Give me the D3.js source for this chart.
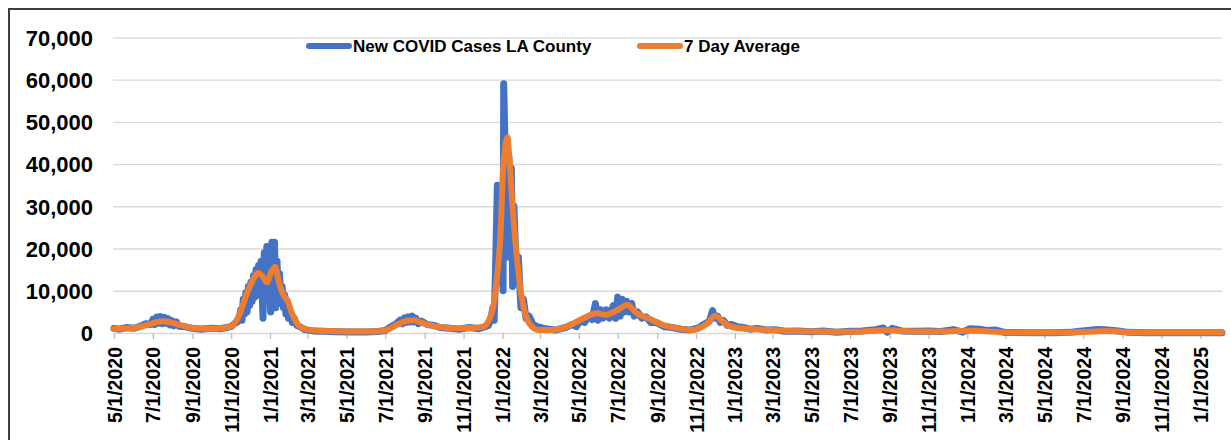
<!DOCTYPE html>
<html>
<head>
<meta charset="utf-8">
<script src="https://cdn.jsdelivr.net/npm/d3@7"></script>
<style>
  body { margin: 0; background: #fff; font-family: "Liberation Sans", Arial, sans-serif; }
  svg text { font-weight: bold; fill: #000; }
</style>
</head>
<body>
<script>
// daily new cases, [date, cases] (spikes kept where the band is wide)
var casePoints = [
  ["2020-05-01",1100],["2020-05-10",900],["2020-05-20",1300],["2020-06-01",1100],["2020-06-10",1500],
  ["2020-06-20",2200],["2020-06-28",2000],["2020-07-01",3200],["2020-07-04",2000],["2020-07-07",3800],
  ["2020-07-10",2300],["2020-07-13",3900],["2020-07-16",2200],["2020-07-19",3700],["2020-07-22",2300],
  ["2020-07-25",3400],["2020-07-28",1900],["2020-07-31",2900],["2020-08-03",1700],["2020-08-07",2600],
  ["2020-08-11",1600],["2020-08-20",1500],["2020-09-01",1100],["2020-09-15",900],["2020-10-01",1100],
  ["2020-10-15",1000],["2020-10-25",1300],["2020-11-01",1500],["2020-11-06",2200],["2020-11-10",2500],
  ["2020-11-14",3500],["2020-11-16",5500],["2020-11-18",3000],["2020-11-20",8000],["2020-11-22",4500],
  ["2020-11-24",9500],["2020-11-26",5000],["2020-11-28",11000],["2020-11-30",6500],["2020-12-02",12000],
  ["2020-12-04",7500],["2020-12-06",13500],["2020-12-08",8500],["2020-12-10",15000],["2020-12-12",9000],
  ["2020-12-14",16000],["2020-12-16",10000],["2020-12-18",17000],["2020-12-20",8000],["2020-12-21",3500],
  ["2020-12-23",19000],["2020-12-25",9000],["2020-12-27",20500],["2020-12-29",12000],["2020-12-31",14000],
  ["2021-01-02",5000],["2021-01-04",21500],["2021-01-06",12000],["2021-01-08",21500],["2021-01-10",6000],
  ["2021-01-12",17000],["2021-01-14",9000],["2021-01-16",14000],["2021-01-18",7000],["2021-01-20",11000],
  ["2021-01-22",6000],["2021-01-24",9000],["2021-01-26",4500],["2021-01-28",7500],["2021-01-30",3500],
  ["2021-02-02",5000],["2021-02-05",2500],["2021-02-08",3500],["2021-02-12",1800],["2021-02-17",1500],
  ["2021-02-25",800],["2021-03-10",500],["2021-03-25",400],["2021-04-15",300],["2021-05-10",250],
  ["2021-06-01",250],["2021-06-20",350],["2021-07-01",600],["2021-07-10",1500],["2021-07-18",2200],
  ["2021-07-24",3000],["2021-07-28",2200],["2021-07-31",3600],["2021-08-03",2500],["2021-08-06",3800],
  ["2021-08-09",2600],["2021-08-12",4000],["2021-08-15",2600],["2021-08-18",3500],["2021-08-22",2200],
  ["2021-08-27",2800],["2021-09-05",2000],["2021-09-15",1800],["2021-09-25",1300],["2021-10-10",1100],
  ["2021-10-25",900],["2021-11-10",1300],["2021-11-25",1000],["2021-12-05",1500],["2021-12-10",1800],
  ["2021-12-14",3500],["2021-12-17",6000],["2021-12-19",3000],["2021-12-21",14000],["2021-12-24",35000],
  ["2021-12-26",12000],["2021-12-28",33000],["2021-12-31",25000],["2022-01-02",10000],["2022-01-03",59000],
  ["2022-01-05",45000],["2022-01-07",40000],["2022-01-09",18000],["2022-01-11",42000],["2022-01-13",35000],
  ["2022-01-15",39000],["2022-01-17",11000],["2022-01-19",30000],["2022-01-21",22000],["2022-01-24",12000],
  ["2022-01-26",18000],["2022-01-30",6000],["2022-02-03",8000],["2022-02-07",3500],["2022-02-12",4000],
  ["2022-02-18",2000],["2022-02-25",1500],["2022-03-10",1000],["2022-03-25",700],["2022-04-10",1300],
  ["2022-04-20",2000],["2022-04-27",1500],["2022-05-04",3000],["2022-05-10",2500],["2022-05-17",4000],
  ["2022-05-22",3200],["2022-05-27",7000],["2022-05-31",3000],["2022-06-04",5500],["2022-06-08",3500],
  ["2022-06-13",5500],["2022-06-18",3500],["2022-06-24",6500],["2022-06-28",3500],["2022-07-01",8500],
  ["2022-07-05",4000],["2022-07-08",8000],["2022-07-12",5000],["2022-07-15",7500],["2022-07-19",5000],
  ["2022-07-23",7000],["2022-07-27",4000],["2022-08-01",5000],["2022-08-08",3500],["2022-08-15",3800],
  ["2022-08-22",2500],["2022-09-01",2400],["2022-09-12",1500],["2022-09-25",1300],["2022-10-08",900],
  ["2022-10-22",700],["2022-11-05",1200],["2022-11-15",2200],["2022-11-22",2800],["2022-11-27",5300],
  ["2022-11-30",3500],["2022-12-05",4000],["2022-12-09",2500],["2022-12-14",3000],["2022-12-20",1800],
  ["2022-12-27",2000],["2023-01-05",1500],["2023-01-15",1300],["2023-01-25",900],["2023-02-05",1100],
  ["2023-02-20",700],["2023-03-05",800],["2023-03-20",400],["2023-04-10",500],["2023-05-01",300],
  ["2023-05-20",450],["2023-06-10",200],["2023-07-01",400],["2023-07-20",500],["2023-08-10",800],
  ["2023-08-22",1200],["2023-08-28",200],["2023-09-05",1100],["2023-09-20",500],["2023-10-10",400],
  ["2023-11-01",450],["2023-11-20",350],["2023-12-10",800],["2023-12-25",200],["2024-01-05",1000],
  ["2024-01-20",900],["2024-02-01",600],["2024-02-15",700],["2024-03-01",100],["2024-04-15",80],
  ["2024-05-15",80],["2024-06-10",150],["2024-06-25",400],["2024-07-20",800],["2024-08-05",750],
  ["2024-08-25",500],["2024-09-10",150],["2024-10-10",80],["2024-12-15",80],["2025-02-04",80]
];

// 7 day average, [date, cases]
var avgPoints = [
  ["2020-05-01",1000],["2020-06-01",1200],["2020-06-20",1800],["2020-07-05",2500],["2020-07-18",2800],
  ["2020-08-01",2400],["2020-08-15",1800],["2020-09-01",1200],["2020-10-01",1000],["2020-11-01",1500],
  ["2020-11-07",2400],["2020-11-15",4700],["2020-11-26",9500],["2020-12-05",12500],["2020-12-13",14200],
  ["2020-12-20",13500],["2020-12-27",12000],["2021-01-03",14500],["2021-01-09",15600],["2021-01-15",12000],
  ["2021-01-22",9000],["2021-01-28",7800],["2021-02-05",4500],["2021-02-17",1500],["2021-03-01",800],
  ["2021-04-01",450],["2021-05-01",350],["2021-06-15",350],["2021-07-05",800],["2021-07-20",2000],
  ["2021-08-05",2900],["2021-08-15",3000],["2021-08-25",2500],["2021-09-10",1800],["2021-10-01",1300],
  ["2021-11-01",1100],["2021-12-01",1400],["2021-12-08",2300],["2021-12-18",6500],["2021-12-24",14000],
  ["2021-12-29",23600],["2022-01-02",38500],["2022-01-09",46300],["2022-01-12",41000],["2022-01-17",29800],
  ["2022-01-24",17300],["2022-02-01",7800],["2022-02-12",2300],["2022-02-27",700],["2022-03-18",700],
  ["2022-04-18",1900],["2022-05-08",3500],["2022-05-30",4700],["2022-06-11",4300],["2022-06-30",5400],
  ["2022-07-16",6600],["2022-07-31",4700],["2022-08-21",3300],["2022-09-10",1900],["2022-10-02",1200],
  ["2022-10-23",700],["2022-11-19",2300],["2022-12-01",4000],["2022-12-20",1900],["2023-01-05",1200],
  ["2023-02-01",900],["2023-03-01",700],["2023-04-01",450],["2023-05-15",350],["2023-07-01",300],
  ["2023-08-01",450],["2023-08-25",650],["2023-09-15",550],["2023-10-15",350],["2023-12-01",350],
  ["2024-01-01",550],["2024-01-25",450],["2024-02-20",200],["2024-03-15",120],["2024-06-01",120],
  ["2024-07-10",300],["2024-08-05",450],["2024-08-25",350],["2024-09-15",150],["2024-11-01",100],
  ["2025-02-04",100]
];

var yTicks = [0, 10000, 20000, 30000, 40000, 50000, 60000, 70000];
var seriesNames = ["New COVID Cases LA County", "7 Day Average"];
var seriesColors = ["#4472C4", "#ED7D31"];

var width = 1231, height = 440;
var parse = d3.timeParse("%Y-%m-%d");

var svg = d3.select("body").append("svg")
    .attr("width", width)
    .attr("height", height);

// frame (only top and left edges show in the crop)
svg.append("path")
    .attr("d", "M9,440 V9 H1231")
    .attr("fill", "none")
    .attr("stroke", "#3f3f3f")
    .attr("stroke-width", 2);

var x = d3.scaleTime()
    .domain([parse("2020-05-01"), parse("2025-02-04")])
    .range([114, 1222]);

var y = d3.scaleLinear()
    .domain([0, 70000])
    .range([333, 37.3]);

// gridlines + y labels
var yAxis = d3.axisLeft(y)
    .tickValues(yTicks)
    .tickSize(-(1222 - 113))
    .tickFormat(d3.format(","));

svg.append("g")
    .attr("transform", "translate(113,0)")
    .call(yAxis)
    .call(g => g.select(".domain").remove())
    .call(g => g.selectAll(".tick line").attr("stroke", "#d9d9d9").attr("stroke-width", 1.3))
    .call(g => g.selectAll(".tick text")
        .attr("x", -20)
        .attr("dy", "0.36em")
        .style("font-size", "22px")
        .style("font-family", "'Liberation Sans', Arial, sans-serif"));

// x axis, every two months
var xTicks = d3.timeMonth.every(2).range(parse("2020-05-01"), parse("2025-02-01"));
var fmt = d => (d.getMonth() + 1) + "/" + d.getDate() + "/" + d.getFullYear();

var xAxis = d3.axisBottom(x)
    .tickValues(xTicks)
    .tickSize(6)
    .tickFormat(fmt);

svg.append("g")
    .attr("transform", "translate(0,333)")
    .call(xAxis)
    .call(g => g.select(".domain").remove())
    .call(g => g.selectAll(".tick line").attr("stroke", "#bfbfbf").attr("stroke-width", 1.3))
    .call(g => g.selectAll(".tick text")
        .attr("transform", "rotate(-90)")
        .attr("text-anchor", "end")
        .attr("x", -14)
        .attr("y", 0)
        .attr("dy", "0.36em")
        .style("font-size", "19.5px")
        .style("font-family", "'Liberation Sans', Arial, sans-serif"));

var cases = casePoints.map(d => ({date: parse(d[0]), value: d[1]}));
var avg = avgPoints.map(d => ({date: parse(d[0]), value: d[1]}));

var caseLine = d3.line()
    .x(d => x(d.date))
    .y(d => y(d.value));

var avgLine = d3.line()
    .curve(d3.curveMonotoneX)
    .x(d => x(d.date))
    .y(d => y(d.value));

svg.append("path")
    .datum(cases)
    .attr("d", caseLine)
    .attr("fill", "none")
    .attr("stroke", seriesColors[0])
    .attr("stroke-width", 7)
    .attr("stroke-linejoin", "round")
    .attr("stroke-linecap", "round");

svg.append("path")
    .datum(avg)
    .attr("d", avgLine)
    .attr("fill", "none")
    .attr("stroke", seriesColors[1])
    .attr("stroke-width", 6)
    .attr("stroke-linejoin", "round")
    .attr("stroke-linecap", "round");

// legend
var legendX = [309, 640];
var legend = svg.append("g");
seriesNames.forEach(function(name, i) {
  legend.append("line")
      .attr("x1", legendX[i]).attr("x2", legendX[i] + 40)
      .attr("y1", 46).attr("y2", 46)
      .attr("stroke", seriesColors[i])
      .attr("stroke-width", 6)
      .attr("stroke-linecap", "round");
  legend.append("text")
      .attr("x", legendX[i] + 44)
      .attr("y", 52)
      .style("font-size", "17px")
      .text(name);
});
</script>
</body>
</html>
